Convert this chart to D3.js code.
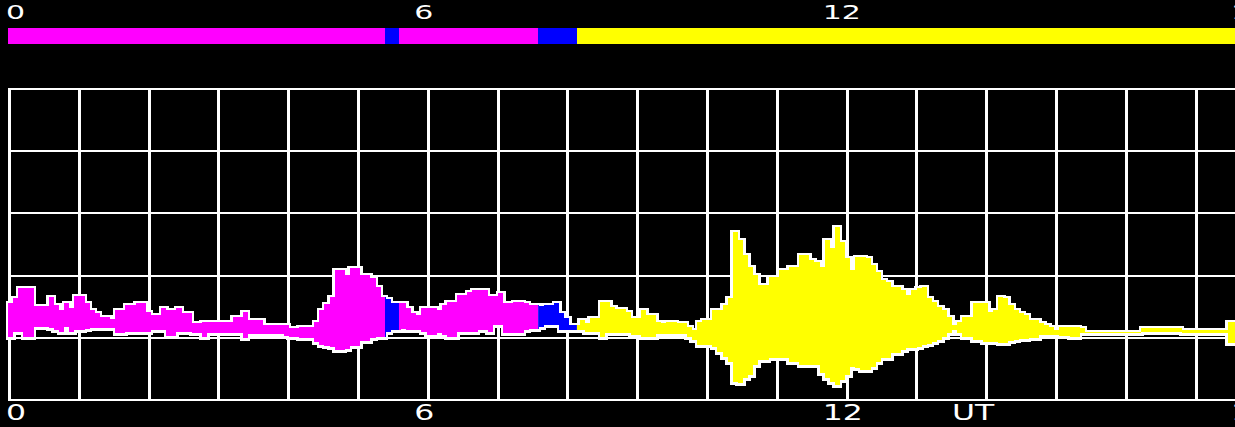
<!DOCTYPE html>
<html>
<head>
<meta charset="utf-8">
<script src="https://cdn.jsdelivr.net/npm/d3@7"></script>
<style>
  html, body { margin: 0; padding: 0; background: #000; overflow: hidden; }
  svg { display: block; }
</style>
</head>
<body>
<svg id="chart" width="1235" height="427"></svg>
<script>
// ---------------- data ----------------
const tickHours  = [0, 6, 12, 18];
const tickLabels = ["0", "6", "12", "18"];
const axisTitle  = "UT";

// colour segments of the record (hours UT)
const segStart = [0,    5.54, 5.745, 7.79, 8.36];
const segEnd   = [5.54, 5.745, 7.79, 8.36, 18.2];
const segKind  = ["magenta", "blue", "magenta", "blue", "yellow"];

// envelope samples, one every 0.075 h (4.5 min), starting 0 UT (raw counts)
const sampleStepHours = 0.075;
const upper = [
  97,102,112,112,112,94,94,94,103,95,
  90,97,92,104,104,97,90,87,83,83,
  81,90,90,95,95,97,97,88,85,85,
  92,90,90,92,87,87,77,77,78,78,
  78,78,78,78,83,83,88,80,80,80,
  75,75,75,75,75,72,72,73,73,73,
  78,90,96,103,130,130,125,132,132,125,
  125,122,113,103,101,97,97,97,92,87,
  85,92,92,92,90,95,98,98,105,105,
  108,110,110,110,104,104,107,97,97,98,
  98,97,95,95,94,95,95,97,87,82,
  75,75,80,77,82,82,98,98,93,91,
  91,88,82,82,90,85,85,78,77,78,
  78,77,77,73,70,78,80,80,90,90,
  95,102,168,160,145,133,125,115,115,123,
  123,130,130,133,133,145,145,140,138,133,
  160,152,173,158,142,130,143,143,142,135,
  128,120,118,113,113,110,105,110,112,113,
  102,98,93,90,83,75,78,83,83,97,
  97,97,88,90,103,102,95,90,87,85,
  80,80,77,75,73,70,73,73,73,73,
  72,68,68,68,68,68,68,68,68,68,
  68,68,72,72,72,72,72,72,72,72,
  70,70,70,70,70,70,70,70,70,78,
  78,78
];
const lower = [
  63,68,68,63,63,73,73,73,72,70,
  68,73,68,70,70,71,72,72,72,72,
  72,67,67,68,68,68,68,68,70,70,
  70,64,64,68,68,68,67,67,63,67,
  67,67,67,67,67,67,62,66,66,66,
  66,66,66,66,64,63,63,62,62,62,
  58,55,54,53,50,50,51,54,54,59,
  59,62,63,63,68,70,70,71,70,70,
  70,68,65,65,67,65,63,63,68,68,
  68,68,70,70,68,75,75,67,67,67,
  67,70,71,71,73,75,75,75,70,70,
  70,70,70,68,68,68,63,67,67,67,
  67,67,65,65,63,63,63,66,66,66,
  66,66,66,63,60,55,55,55,53,48,
  43,38,18,17,22,25,35,40,40,42,
  42,42,42,38,38,35,35,35,35,27,
  22,18,15,20,25,33,32,30,30,33,
  38,42,42,47,47,50,52,52,53,55,
  56,58,60,63,67,70,67,63,63,60,
  60,58,58,58,57,57,59,60,61,61,
  62,62,65,65,65,65,64,64,63,63,
  67,67,67,67,67,67,67,67,67,67,
  67,67,68,68,68,68,68,68,68,68,
  67,67,67,67,67,67,67,67,67,57,
  57,57
];

// ---------------- drawing ----------------
const W = 1235, H = 427;
const colors = { magenta: "#ff00ff", blue: "#0000ff", yellow: "#ffff00" };

const svg = d3.select("#chart");
svg.append("rect").attr("width", W).attr("height", H).attr("fill", "#000");

const x = d3.scaleLinear().domain([0, 18]).range([8, 1233]);
const y = d3.scaleLinear().domain([0, 311]).range([400, 89]);

// grid: 5 rows, columns every 69.8 px
const gridCols = d3.scaleLinear().domain([0, 1]).range([9.5, 79.3]);
const g = svg.append("g").attr("shape-rendering", "crispEdges");
d3.range(0, 18).forEach(k => {
  g.append("line")
    .attr("x1", gridCols(k)).attr("x2", gridCols(k))
    .attr("y1", y(0)).attr("y2", y(311))
    .attr("stroke", "#fff").attr("stroke-width", 3);
});
d3.range(0, 6).forEach(k => {
  g.append("line")
    .attr("x1", 8).attr("x2", W)
    .attr("y1", y(k * 311 / 5)).attr("y2", y(k * 311 / 5))
    .attr("stroke", "#fff").attr("stroke-width", 2);
});

// top colour bar
const bar = svg.append("g").attr("shape-rendering", "crispEdges");
segStart.forEach((s, j) => {
  bar.append("rect")
    .attr("x", x(s)).attr("y", 28)
    .attr("width", x(segEnd[j]) - x(s)).attr("height", 16)
    .attr("fill", colors[segKind[j]]);
});

// envelope
const data = upper.map((u, i) => ({ t: i * sampleStepHours, hi: u, lo: lower[i] }));
const area = d3.area()
  .x(d => x(d.t))
  .y0(d => y(d.lo))
  .y1(d => y(d.hi))
  .curve(d3.curveStepAfter);

const wf = svg.append("g").attr("shape-rendering", "crispEdges");
wf.append("path")
  .attr("d", area(data))
  .attr("fill", "#fff")
  .attr("stroke", "#fff")
  .attr("stroke-width", 5)
  .attr("stroke-linejoin", "miter");

const defs = svg.append("defs");
segStart.forEach((s, j) => {
  defs.append("clipPath").attr("id", "seg" + j)
    .append("rect")
    .attr("x", x(s)).attr("y", 0)
    .attr("width", x(segEnd[j]) - x(s)).attr("height", H);
  wf.append("path")
    .attr("d", area(data))
    .attr("fill", colors[segKind[j]])
    .attr("clip-path", `url(#seg${j})`);
});

// labels
function label(txt, xp, base, size) {
  svg.append("text")
    .attr("transform", `translate(${xp - 2},${base}) scale(1.5,1)`)
    .attr("font-family", "DejaVu Sans")
    .attr("font-size", size)
    .attr("fill", "#fff")
    .text(txt);
}
tickHours.forEach((h, i) => {
  label(tickLabels[i], x(h), 18.8, 20);
  label(tickLabels[i], x(h), 420, 21);
});
label(axisTitle, 954, 420, 21);
</script>
</body>
</html>
